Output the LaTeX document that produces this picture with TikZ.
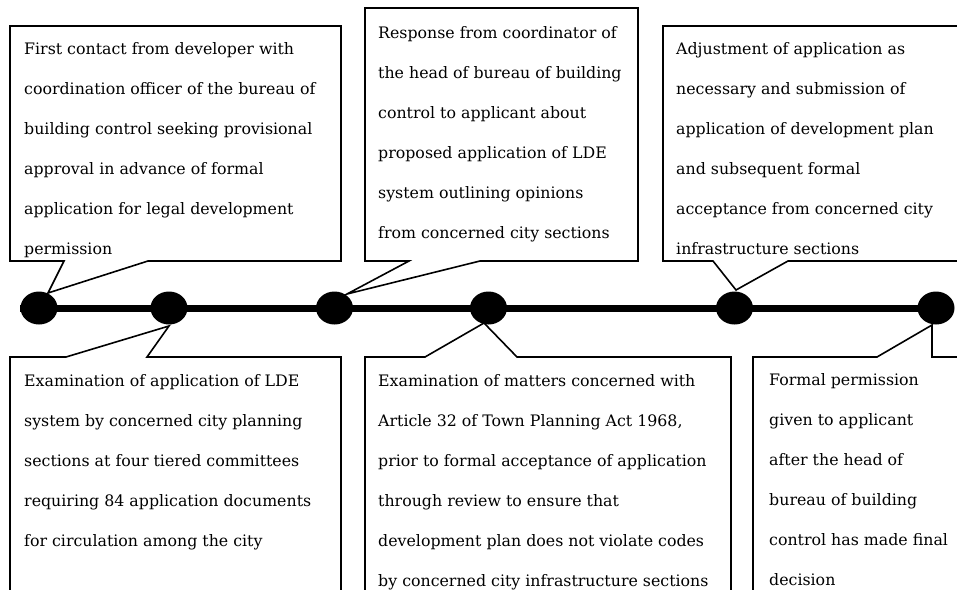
\documentclass[tikz,border=0pt]{standalone}
\usepackage{fontspec}
\setmainfont{DejaVu Serif}
\usetikzlibrary{shapes.geometric}
\begin{document}
\begin{tikzpicture}[x=1pt,y=-1pt,
  callout/.style={draw=black, fill=white, line width=1.6pt, line join=miter},
  txt/.style={anchor=north west, inner sep=0pt, align=left, font=\fontsize{15.8}{40}\selectfont},
  dot/.style={ellipse, fill=black, minimum width=37pt, minimum height=33pt, inner sep=0pt},
  axis/.style={line width=7pt}]
\useasboundingbox (0,0) rectangle (957,589);
\clip (0,0) rectangle (957,589);
% tips of the callouts
\coordinate (tip1) at (48,293);
\coordinate (tip2) at (347,294);
\coordinate (tip3) at (736,290);
\coordinate (tip4) at (169,326);
\coordinate (tip5) at (484,323);
\coordinate (tip6) at (932,325);
% callout boxes
\draw[callout] (10,26) -- (341,26) -- (341,261) -- (148,261) -- (tip1) -- (64,261) -- (10,261) -- cycle;
\draw[callout] (365,8) -- (638,8) -- (638,261) -- (480,261) -- (tip2) -- (409,261) -- (365,261) -- cycle;
\draw[callout] (663,26) -- (975,26) -- (975,261) -- (788,261) -- (tip3) -- (713,261) -- (663,261) -- cycle;
\draw[callout] (10,357) -- (66,357) -- (tip4) -- (147,357) -- (341,357) -- (341,610) -- (10,610) -- cycle;
\draw[callout] (365,357) -- (425,357) -- (tip5) -- (517,357) -- (731,357) -- (731,610) -- (365,610) -- cycle;
\draw[callout] (753,357) -- (877,357) -- (tip6) -- (932,357) -- (975,357) -- (975,610) -- (753,610) -- cycle;
% texts
\node[txt] (t1) at (24,41.5) {\rule{0pt}{12.5pt}First contact from developer with\\coordination officer of the bureau of\\building control seeking provisional\\approval in advance of formal\\application for legal development\\permission};
\node[txt] (t2) at (378,25.5) {\rule{0pt}{12.5pt}Response from coordinator of\\the head of bureau of building\\control to applicant about\\proposed application of LDE\\system outlining opinions\\from concerned city sections};
\node[txt] (t3) at (676,41.5) {\rule{0pt}{12.5pt}Adjustment of application as\\necessary and submission of\\application of development plan\\and subsequent formal\\acceptance from concerned city\\infrastructure sections};
\node[txt] (t4) at (24,373.5) {\rule{0pt}{12.5pt}Examination of application of LDE\\system by concerned city planning\\sections at four tiered committees\\requiring 84 application documents\\for circulation among the city};
\node[txt] (t5) at (378,373.5) {\rule{0pt}{12.5pt}Examination of matters concerned with\\Article 32 of Town Planning Act 1968,\\prior to formal acceptance of application\\through review to ensure that\\development plan does not violate codes\\by concerned city infrastructure sections};
\node[txt] (t6) at (769,372.5) {\rule{0pt}{12.5pt}Formal permission\\given to applicant\\after the head of\\bureau of building\\control has made final\\decision};
% timeline
\node[dot] (d1) at (39,308) {};
\node[dot] (d2) at (169,308) {};
\node[dot] (d3) at (334.5,308) {};
\node[dot] (d4) at (488.5,308) {};
\node[dot] (d5) at (734.5,308) {};
\node[dot] (d6) at (936,308) {};
\draw[axis] (d1.west) -- (d6.center);
\end{tikzpicture}
\end{document}
